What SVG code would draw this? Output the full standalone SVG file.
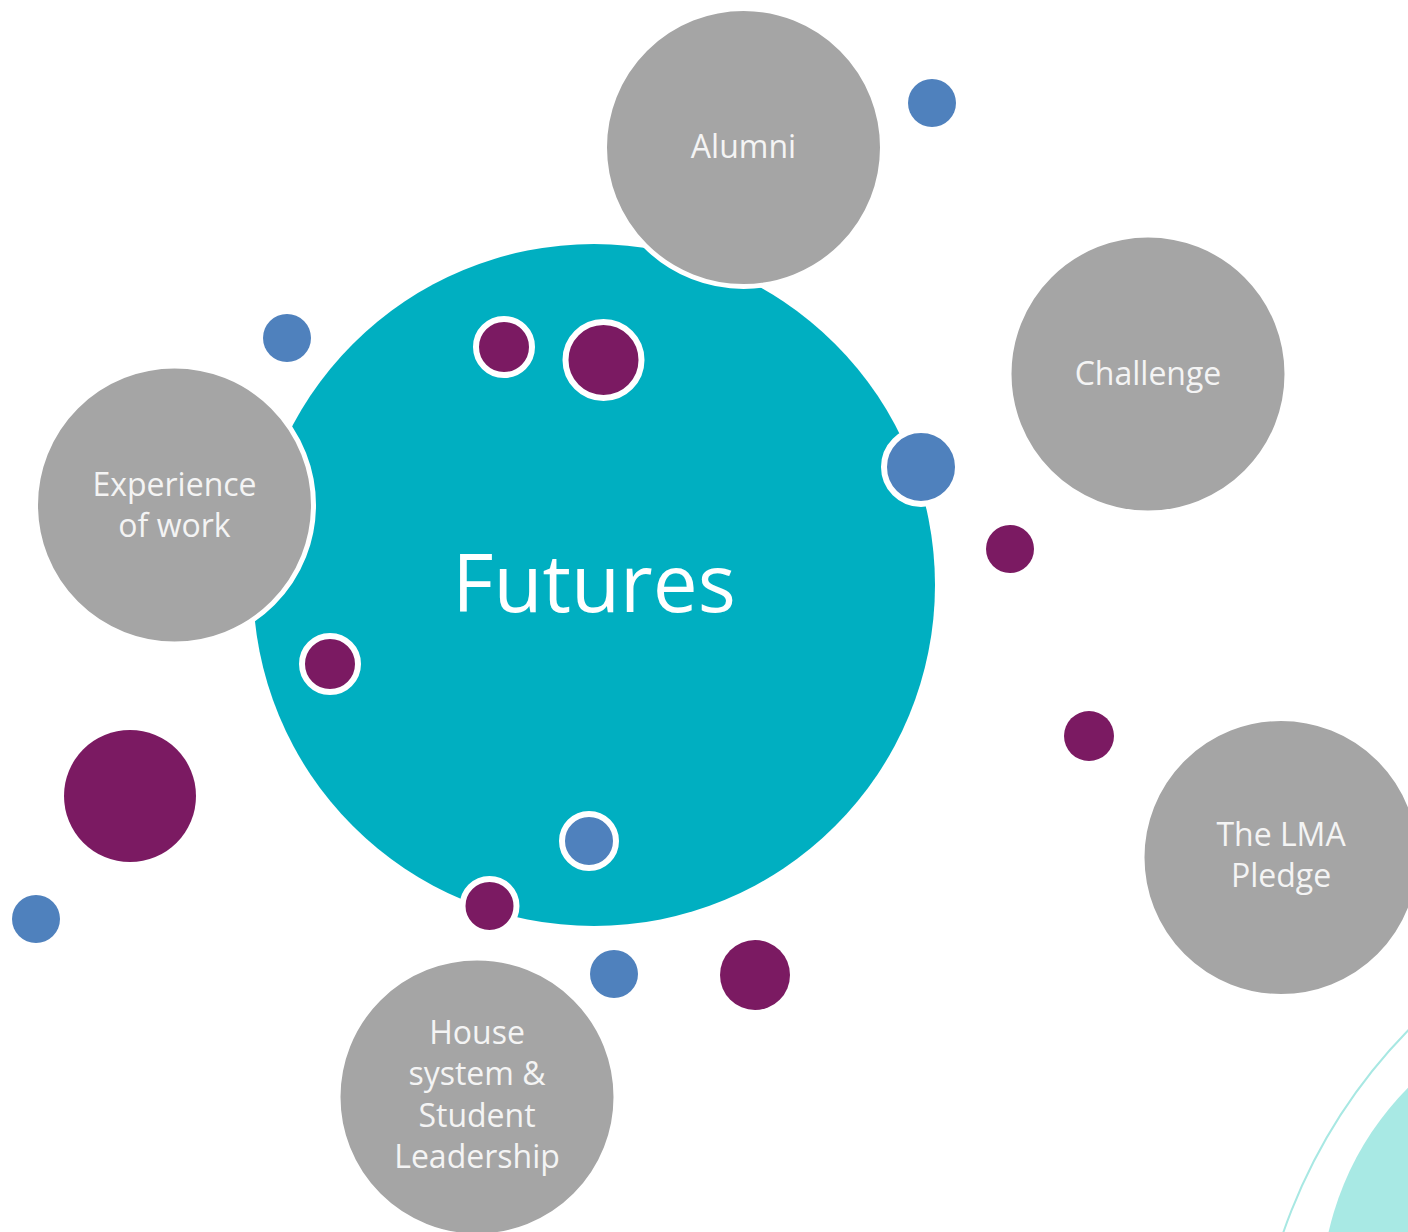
<svg xmlns="http://www.w3.org/2000/svg" width="1408" height="1232" viewBox="0 0 1408 1232">
<style>
.grey{fill:#a5a5a5;stroke:#ffffff;stroke-width:5}
.lbl{font-family:"Open Sans","Liberation Sans",sans-serif;font-size:32px;fill:#f4f4f4;text-anchor:middle}
.blue{fill:#4f81bd}
.purple{fill:#7b1a62}
.ring{stroke:#ffffff;stroke-width:6}
</style>
<rect width="1408" height="1232" fill="#ffffff"/>
<g id="decoration">
<circle cx="1800" cy="1412" r="547" fill="none" stroke="#a8e8e3" stroke-width="2"/>
<circle cx="1621" cy="1299" r="300" fill="#a8e9e4"/>
</g>
<g id="futures">
<circle cx="594" cy="585" r="341" fill="#00afc1"/>
<text x="594" y="612" font-family="Open Sans, Liberation Sans, sans-serif" font-size="80" fill="#ffffff" text-anchor="middle">Futures</text>
</g>
<g id="connectors"/>
<g id="alumni">
<circle class="grey" cx="743.5" cy="147.5" r="139"/>
<text class="lbl" x="743.5" y="158">Alumni</text>
</g>
<g id="challenge">
<circle class="grey" cx="1148" cy="374" r="139"/>
<text class="lbl" x="1148" y="385">Challenge</text>
</g>
<g id="experience">
<circle class="grey" cx="174.5" cy="505" r="139"/>
<text class="lbl" x="174.5" y="496">Experience</text>
<text class="lbl" x="174.5" y="537">of work</text>
</g>
<g id="lma-pledge">
<circle class="grey" cx="1281" cy="857.5" r="139"/>
<text class="lbl" x="1281" y="846">The LMA</text>
<text class="lbl" x="1281" y="887">Pledge</text>
</g>
<g id="house-system">
<circle class="grey" cx="477" cy="1097" r="139"/>
<text class="lbl" x="477" y="1044">House</text>
<text class="lbl" x="477" y="1085">system &amp;</text>
<text class="lbl" x="477" y="1127">Student</text>
<text class="lbl" x="477" y="1168">Leadership</text>
</g>
<g id="dots">
<circle class="purple ring" cx="504" cy="347" r="28"/>
<circle class="purple ring" cx="603.5" cy="360" r="38"/>
<circle class="blue ring" cx="921" cy="467" r="37"/>
<circle class="purple ring" cx="330" cy="664" r="28"/>
<circle class="blue ring" cx="589" cy="841" r="27"/>
<circle class="purple ring" cx="489.5" cy="906" r="27"/>
<circle class="blue" cx="932" cy="103" r="24"/>
<circle class="blue" cx="287" cy="338" r="24"/>
<circle class="blue" cx="36" cy="919" r="24"/>
<circle class="blue" cx="614" cy="974" r="24"/>
<circle class="purple" cx="1010" cy="549" r="24"/>
<circle class="purple" cx="1089" cy="736" r="25"/>
<circle class="purple" cx="755" cy="975" r="35"/>
<circle class="purple" cx="130" cy="796" r="66"/>
</g>
</svg>
